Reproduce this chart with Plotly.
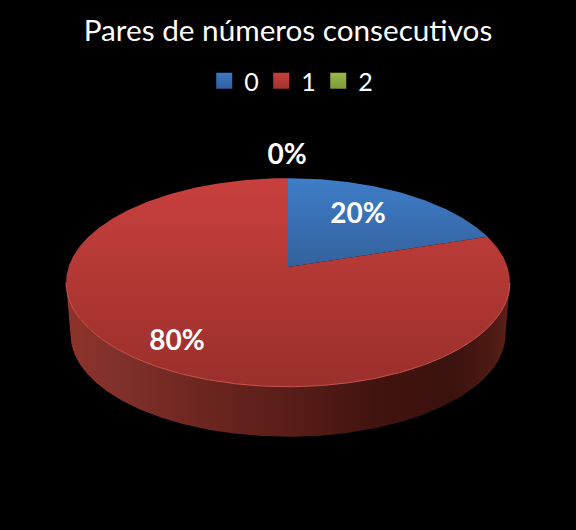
import numpy as np
import plotly.graph_objects as go

title = "Pares de números consecutivos"
categories = ["0", "1", "2"]
values = [20, 80, 0]
legend_colors = ["#3f78c4", "#c8403c", "#98b946"]
legend_shade = ["#2f5f9e", "#a03230", "#7d9a38"]
face_top = ["#3f7dc8", "#c8403d", "#a6c850"]
face_bottom = ["#33619c", "#9a2f2b", "#7f9a3c"]
edge_colors = ["#5a90d0", "#c9554c", "#b0cc60"]
label_pos = [(358, 216), (177, 343), (287, 157)]

# projection of the pie disc into the page (page pixels as axis units)
CX, CY = 288, 267
A, B, K = 219.5, 102.0, 0.148
DEPTH, SHRINK = 52.4, 0.98


def project(theta, scale=1.0, drop=0.0):
    u, v = np.sin(theta), np.cos(theta)
    s = 1 / (1 + K * v)
    return CX + scale * A * u * s, CY + drop - scale * B * v * s


def arc(t0, t1):
    n = max(2, int(abs(t1 - t0) / 0.01))
    return np.linspace(t0, t1, n)


fig = go.Figure()
total = sum(values)
fractions = [v / total for v in values]
edges = np.cumsum([0] + fractions) * 2 * np.pi

front0 = np.arccos(-K)
front1 = 2 * np.pi - front0

side_scale = [
    [0.00, "#8f332c"], [0.12, "#80302a"], [0.30, "#6e2620"], [0.50, "#591d19"],
    [0.70, "#42130f"], [0.87, "#3a120e"], [0.96, "#4e1a14"], [1.00, "#5c2019"],
]

# rim
for i, f in enumerate(fractions):
    lo, hi = max(edges[i], front0), min(edges[i + 1], front1)
    if f == 0 or hi <= lo:
        continue
    t = arc(lo, hi)
    x1, y1 = project(t)
    x2, y2 = project(t[::-1], SHRINK, DEPTH)
    fig.add_trace(go.Scatter(
        x=np.r_[x1, x2], y=np.r_[y1, y2], mode="lines", fill="toself",
        line=dict(width=0), showlegend=False, hoverinfo="skip",
        fillgradient=dict(type="horizontal", colorscale=side_scale),
    ))

# top face
for i, f in enumerate(fractions):
    if f == 0:
        continue
    t = arc(edges[i], edges[i + 1])
    x, y = project(t)
    x = np.r_[CX, x, CX]
    y = np.r_[CY, y, CY]
    fig.add_trace(go.Scatter(
        x=x, y=y, mode="lines", fill="toself",
        line=dict(width=0), showlegend=False, hoverinfo="skip",
        fillgradient=dict(type="vertical",
                          colorscale=[[0, face_bottom[i]], [1, face_top[i]]]),
    ))
    # light bevel along the front edge only
    lo, hi = max(edges[i], front0), min(edges[i + 1], front1)
    if hi > lo:
        ex, ey = project(arc(lo, hi))
        fig.add_trace(go.Scatter(
            x=ex, y=ey, mode="lines", line=dict(width=1, color=edge_colors[i]),
            showlegend=False, hoverinfo="skip",
        ))

# legend entries
for name, col, shade in zip(categories, legend_colors, legend_shade):
    fig.add_trace(go.Scatter(
        x=[None], y=[None], mode="markers", name=name,
        marker=dict(symbol="square", size=17, color=col, line=dict(width=0),
                    gradient=dict(type="vertical", color=shade)),
    ))

# value labels
fig.add_trace(go.Scatter(
    x=[p[0] for p in label_pos], y=[p[1] for p in label_pos], mode="text",
    text=[f"{round(f * 100)}%" for f in fractions], showlegend=False, hoverinfo="skip",
    textfont=dict(family="Lato", size=28, color="white", weight="bold"),
))

fig.update_layout(
    width=576, height=530, margin=dict(l=0, r=0, t=0, b=0),
    paper_bgcolor="black", plot_bgcolor="black",
    title=dict(text=title, x=0.5, xanchor="center", y=0.942, yanchor="middle",
               font=dict(family="Lato", size=29.7, color="white")),
    legend=dict(orientation="h", x=0.503, xanchor="center", y=0.847, yanchor="middle",
                font=dict(family="Lato", size=25, color="white"),
                bgcolor="rgba(0,0,0,0)", itemwidth=30,
                entrywidth=12, entrywidthmode="pixels"),
    xaxis=dict(range=[0, 576], visible=False, fixedrange=True),
    yaxis=dict(range=[530, 0], visible=False, fixedrange=True),
)
fig.write_html(
    "out.html", config=dict(displayModeBar=False),
    post_script="document.body.style.margin='0';document.body.style.background='black';",
)
